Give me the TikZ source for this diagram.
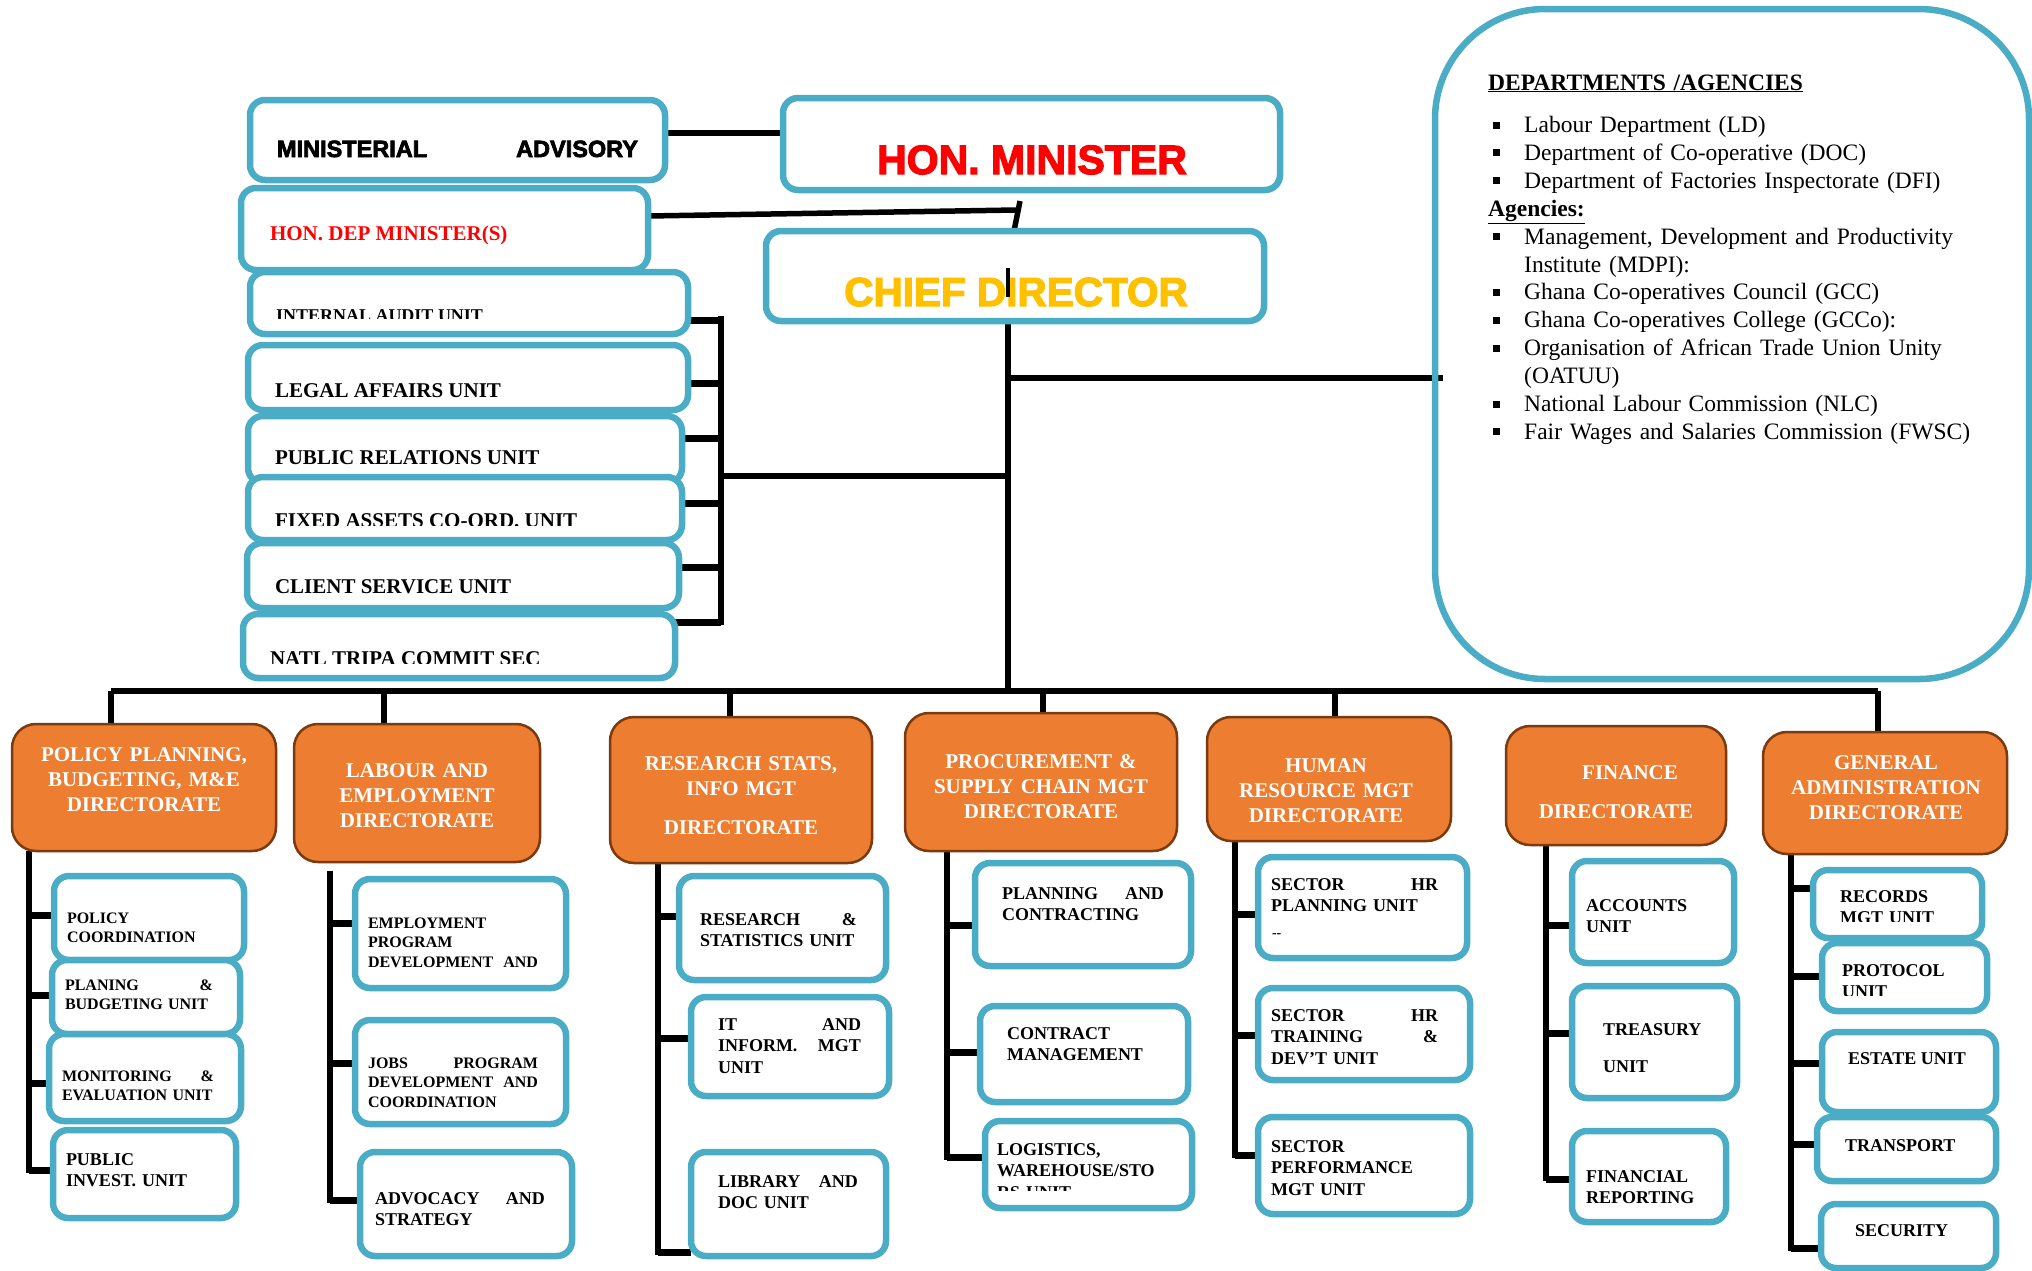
\documentclass[tikz,border=0pt]{standalone}
\usepackage{fontspec}
\setmainfont{Liberation Serif}
\newfontfamily\heavy{Liberation Sans}[UprightFont={* Bold}, FakeBold=3]
\usetikzlibrary{calc}
\definecolor{ublue}{HTML}{4BACC6}
\definecolor{dorange}{HTML}{ED7D31}
\definecolor{dbrown}{HTML}{7B3A10}
\definecolor{cdgold}{HTML}{FFC000}
\pgfdeclarelayer{bg}
\pgfsetlayers{bg,main}
\newcommand\fsz[2]{\fontsize{#1}{#2}\selectfont}
\newcommand\ubx[6]{\node[#2, minimum width={(#5)-(#3)}, minimum height={(#6)-(#4)}] (#1) at ({((#3)+(#5))/2},{((#4)+(#6))/2}) {};}
\newcommand\dbul{\hspace*{5pt}\makebox[31pt][l]{\raisebox{4pt}{\rule{7pt}{7pt}}}}
\tikzset{
 ubox/.style={draw=ublue, line width=6.5pt, rounded corners=15pt, fill=white, inner sep=0pt, outer sep=0pt},
 dbox/.style={draw=dbrown, line width=2.5pt, fill=dorange, rounded corners=24pt, inner sep=0pt, outer sep=0pt},
 panel/.style={draw=ublue, line width=6.5pt, rounded corners=110pt, inner sep=0pt, outer sep=0pt},
 conn/.style={line width=5.5pt, black},
 tick/.style={line width=7pt, black},
 ut/.style={inner sep=0pt, outer sep=0pt, anchor=base west, align=left, font=\bfseries\fsz{18}{21.5}},
 ut16/.style={ut, font=\bfseries\fsz{16}{19.5}},
 lt/.style={ut, font=\bfseries\fsz{21}{25}},
 dt/.style={inner sep=0pt, anchor=base, align=center, text=white, font=\bfseries\fsz{21}{25}},
}
\begin{document}
\begin{tikzpicture}[x=1pt,y=-1pt]
\path[use as bounding box] (0,0) rectangle (2032,1270);

% ---------- top boxes
\ubx{ma}{ubox}{250}{100}{665}{180}
\ubx{hm}{ubox}{783}{98}{1280}{190}
\ubx{dm}{ubox}{241}{188}{648}{270}
\ubx{cd}{ubox}{766}{231}{1264}{321}
\node[ut, font=\heavy\fsz{23.5}{26}, text width=361pt] (tma) at (277,157) {MINISTERIAL\hfill ADVISORY};
\node[anchor=base, inner sep=0pt, text=red, font=\heavy\fsz{41}{48}] (thm) at (1032,174) {HON. MINISTER};
\node[ut, text=red, font=\bfseries\fsz{21}{25}] (tdm) at (270,240) {HON. DEP MINISTER(S)};
\node[anchor=base, inner sep=0pt, text=cdgold, font=\heavy\fsz{40.5}{46}] (tcd) at (1016,306) {CHIEF DIRECTOR};

% ---------- left unit boxes
\ubx{ia}{ubox}{250}{272}{688}{334}
\ubx{la}{ubox}{248}{345}{688}{410}
\ubx{pr}{ubox}{248}{416}{682}{483}
\ubx{fa}{ubox}{248}{477}{682}{540}
\ubx{cs}{ubox}{247}{543}{679}{608}
\ubx{nt}{ubox}{243}{614}{675}{678}
\begin{scope}\clip (250,270) rectangle (688,318);
\node[ut] (tia) at (276,321) {INTERNAL AUDIT UNIT};\end{scope}
\node[lt] (tla) at (275,397) {LEGAL AFFAIRS UNIT};
\node[lt] (tpr) at (275,464) {PUBLIC RELATIONS UNIT};
\begin{scope}\clip (248,477) rectangle (682,525);
\node[lt] (tfa) at (275,527) {FIXED ASSETS CO-ORD. UNIT};\end{scope}
\node[lt] (tcs) at (275,593) {CLIENT SERVICE UNIT};
\begin{scope}\clip (243,614) rectangle (675,663);
\node[lt] (tnt) at (270,665) {NATL TRIPA COMMIT SEC};\end{scope}

% ---------- departments panel
\ubx{dept}{panel}{1435}{9}{2029}{679}
\node[anchor=base west, inner sep=0pt, align=left, text width=530pt, font=\fsz{23.5}{27.9}] (tdept) at (1488,90) {\textbf{\underline{DEPARTMENTS /AGENCIES}}\\[14.6pt]
\dbul Labour Department (LD)\\
\dbul Department of Co-operative (DOC)\\
\dbul Department of Factories Inspectorate (DFI)\\
\textbf{\underline{Agencies:}}\\
\dbul Management, Development and Productivity\\
\hspace*{36pt}Institute (MDPI):\\
\dbul Ghana Co-operatives Council (GCC)\\
\dbul Ghana Co-operatives College (GCCo):\\
\dbul Organisation of African Trade Union Unity\\
\hspace*{36pt}(OATUU)\\
\dbul National Labour Commission (NLC)\\
\dbul Fair Wages and Salaries Commission (FWSC)};

% ---------- directorates
\ubx{d1}{dbox}{12}{724}{276}{851}
\ubx{d2}{dbox}{294}{724}{540}{862}
\ubx{d3}{dbox}{610}{717}{872}{863}
\ubx{d4}{dbox}{905}{713}{1177}{851}
\ubx{d5}{dbox}{1207}{717}{1451}{841}
\ubx{d6}{dbox}{1506}{726}{1726}{845}
\ubx{d7}{dbox}{1763}{732}{2007}{854}
\node[dt, text width=260pt] (td1) at (144,761) {POLICY PLANNING,\\BUDGETING, M\&E\\DIRECTORATE};
\node[dt, text width=240pt] (td2) at (417,777) {LABOUR AND\\EMPLOYMENT\\DIRECTORATE};
\node[dt, text width=260pt] (td3) at (741,770) {RESEARCH STATS,\\INFO MGT\\[14pt]DIRECTORATE};
\node[dt, text width=270pt] (td4) at (1041,768) {PROCUREMENT \&\\SUPPLY CHAIN MGT\\DIRECTORATE};
\node[dt, text width=240pt] (td5) at (1326,772) {HUMAN\\RESOURCE MGT\\DIRECTORATE};
\node[dt] (td6a) at (1630,779) {FINANCE};
\node[dt] (td6b) at (1616,818) {DIRECTORATE};
\node[dt, text width=240pt] (td7) at (1886,769) {GENERAL\\ADMINISTRATION\\DIRECTORATE};

% ---------- column 1
\ubx{u11}{ubox}{54}{876}{244}{960}
\ubx{u12}{ubox}{52}{960}{240}{1034}
\ubx{u13}{ubox}{49}{1034}{241}{1121}
\ubx{u14}{ubox}{53}{1130}{236}{1218}
\node[ut16, text width=150pt] (t11) at (67,923) {POLICY\\COORDINATION};
\node[ut16, text width=148pt] (t12) at (65,990) {PLANING\hfill\&\\BUDGETING UNIT};
\node[ut16, text width=152pt] (t13) at (62,1081) {MONITORING\hfill\&\\EVALUATION UNIT};
\node[ut, text width=150pt] (t14) at (66,1165) {PUBLIC\\INVEST. UNIT};

% ---------- column 2
\ubx{u21}{ubox}{355}{879}{566}{988}
\ubx{u22}{ubox}{355}{1020}{566}{1124}
\ubx{u23}{ubox}{360}{1152}{572}{1256}
\node[ut16, text width=170pt] (t21) at (368,928) {EMPLOYMENT\\PROGRAM\\DEVELOPMENT\hfill AND};
\node[ut16, text width=170pt] (t22) at (368,1068) {JOBS\hfill PROGRAM\\DEVELOPMENT\hfill AND\\COORDINATION};
\node[ut, text width=170pt] (t23) at (375,1204) {ADVOCACY\hfill AND\\STRATEGY};

% ---------- column 3
\ubx{u31}{ubox}{679}{876}{886}{980}
\ubx{u32}{ubox}{691}{997}{889}{1096}
\ubx{u33}{ubox}{691}{1152}{886}{1256}
\node[ut, text width=157pt] (t31) at (700,925) {RESEARCH\hfill\&\\STATISTICS UNIT};
\node[ut, text width=143pt] (t32) at (718,1030) {IT\hfill AND\\INFORM.\hfill MGT\\UNIT};
\node[ut, text width=140pt] (t33) at (718,1187) {LIBRARY\hfill AND\\DOC UNIT};

% ---------- column 4
\ubx{u41}{ubox}{975}{863}{1191}{966}
\ubx{u42}{ubox}{980}{1006}{1188}{1102}
\ubx{u43}{ubox}{985}{1121}{1192}{1208}
\node[ut, text width=162pt] (t41) at (1002,899) {PLANNING\hfill AND\\CONTRACTING};
\node[ut, text width=160pt] (t42) at (1007,1039) {CONTRACT\\MANAGEMENT};
\begin{scope}\clip (985,1121) rectangle (1192,1190);
\node[ut, text width=170pt] (t43) at (997,1155) {LOGISTICS,\\WAREHOUSE/STO\\RS UNIT};\end{scope}

% ---------- column 5
\ubx{u51}{ubox}{1258}{857}{1467}{958}
\ubx{u52}{ubox}{1258}{988}{1470}{1080}
\ubx{u53}{ubox}{1258}{1117}{1470}{1214}
\node[ut, text width=167pt] (t51) at (1271,890) {SECTOR\hfill HR\\PLANNING UNIT};
\node[ut, font=\bfseries\fsz{14}{16}] (t51b) at (1272,937) {-{}-};
\node[ut, text width=167pt] (t52) at (1271,1021) {SECTOR\hfill HR\\TRAINING\hfill\&\\DEV'T UNIT};
\node[ut, text width=167pt] (t53) at (1271,1152) {SECTOR\\PERFORMANCE\\MGT UNIT};

% ---------- column 6
\ubx{u61}{ubox}{1572}{861}{1734}{963}
\ubx{u62}{ubox}{1572}{986}{1737}{1098}
\ubx{u63}{ubox}{1572}{1131}{1726}{1222}
\node[ut, text width=130pt] (t61) at (1586,911) {ACCOUNTS\\UNIT};
\node[ut, text width=120pt] (t62) at (1603,1035) {TREASURY\\[16pt]UNIT};
\node[ut, text width=130pt] (t63) at (1586,1182) {FINANCIAL\\REPORTING};

% ---------- column 7
\ubx{u71}{ubox}{1813}{870}{1982}{938}
\ubx{u72}{ubox}{1822}{943}{1987}{1011}
\ubx{u73}{ubox}{1822}{1032}{1996}{1112}
\ubx{u74}{ubox}{1817}{1117}{1996}{1181}
\ubx{u75}{ubox}{1821}{1204}{1996}{1268}
\begin{scope}\clip (1813,870) rectangle (1982,921);
\node[ut, text width=130pt] (t71) at (1840,902) {RECORDS\\MGT UNIT};\end{scope}
\begin{scope}\clip (1822,943) rectangle (1987,995);
\node[ut, text width=130pt] (t72) at (1842,976) {PROTOCOL\\UNIT};\end{scope}
\node[ut] (t73) at (1848,1064) {ESTATE UNIT};
\node[ut] (t74) at (1845,1151) {TRANSPORT};
\node[ut] (t75) at (1855,1236) {SECURITY};

% ---------- connectors
\coordinate (b1) at (111,691);
\coordinate (b2) at (384,691);
\coordinate (b3) at (730,691);
\coordinate (b4) at (1043,691);
\coordinate (b5) at (1335,691);
\coordinate (b7) at (1878,691);
\coordinate (cdbot) at (1008,691);
\coordinate (cdr) at (1008,378);
\coordinate (pnl) at (1443,378);
\coordinate (cdl) at (1008,476);
\coordinate (brt) at (721,316);
\coordinate (brb) at (721,625);
\coordinate (hms) at (1020,201);
\coordinate (cds) at (1014,231);
\coordinate (dmj) at (1016,210);
\coordinate (cdm1) at (1008,268);
\coordinate (cdm2) at (1008,297);
\coordinate (c1t) at (29,851);   \coordinate (c1b) at (29,1173);
\coordinate (c2t) at (330,871);  \coordinate (c2b) at (330,1203);
\coordinate (c3t) at (658,863);  \coordinate (c3b) at (658,1255);
\coordinate (c4t) at (947,851);  \coordinate (c4b) at (947,1160);
\coordinate (c5t) at (1235,841); \coordinate (c5b) at (1235,1158);
\coordinate (c6t) at (1546,845); \coordinate (c6b) at (1546,1181);
\coordinate (c7t) at (1791,854); \coordinate (c7b) at (1791,1251);

\draw[conn, line width=4pt] (cdm1) -- (cdm2);

\begin{pgfonlayer}{bg}
\draw[conn] (ma.east |- 0,133) -- (hm.west |- 0,133);
\draw[conn] (hms) -- (cds);
\draw[conn] (dm.east |- 0,216) -- (dmj);
\draw[conn] (cd.south -| cdbot) -- (cdbot);
\draw[conn] (cdr) -- (pnl);
\draw[conn] (brt |- cdl) -- (cdl);
\draw[conn, line width=6pt] (brt) -- (brb);
\draw[tick] (ia.east |- 0,320) -- (brt |- 0,320);
\draw[tick] (la.east |- 0,383) -- (brt |- 0,383);
\draw[tick] (pr.east |- 0,438) -- (brt |- 0,438);
\draw[tick] (fa.east |- 0,503) -- (brt |- 0,503);
\draw[tick] (cs.east |- 0,567) -- (brt |- 0,567);
\draw[tick] (nt.east |- 0,622) -- (brt |- 0,622);
\draw[conn] (b1) -- (b7);
\foreach \b/\d in {b1/d1,b2/d2,b3/d3,b4/d4,b5/d5,b7/d7}{\draw[conn] (\b) -- (\b |- \d.north);}
\draw[conn] (c1t) -- (c1b);
\draw[conn] (c2t) -- (c2b);
\draw[conn] (c3t) -- (c3b);
\draw[conn] (c4t) -- (c4b);
\draw[conn] (c5t) -- (c5b);
\draw[conn] (c6t) -- (c6b);
\draw[conn] (c7t) -- (c7b);
\foreach \u/\y in {u11/915,u12/995,u13/1083,u14/1170}{\draw[tick] (c1t |- 0,\y) -- (\u.west |- 0,\y);}
\foreach \u/\y in {u21/923,u22/1063,u23/1200}{\draw[tick] (c2t |- 0,\y) -- (\u.west |- 0,\y);}
\foreach \u/\y in {u31/916,u32/1038,u33/1252}{\draw[tick] (c3t |- 0,\y) -- (\u.west |- 0,\y);}
\foreach \u/\y in {u41/925,u42/1052,u43/1157}{\draw[tick] (c4t |- 0,\y) -- (\u.west |- 0,\y);}
\foreach \u/\y in {u51/914,u52/1035,u53/1155}{\draw[tick] (c5t |- 0,\y) -- (\u.west |- 0,\y);}
\foreach \u/\y in {u61/925,u62/1033,u63/1179}{\draw[tick] (c6t |- 0,\y) -- (\u.west |- 0,\y);}
\foreach \u/\y in {u71/888,u72/976,u73/1063,u74/1144,u75/1248}{\draw[tick] (c7t |- 0,\y) -- (\u.west |- 0,\y);}
\end{pgfonlayer}
\end{tikzpicture}
\end{document}
